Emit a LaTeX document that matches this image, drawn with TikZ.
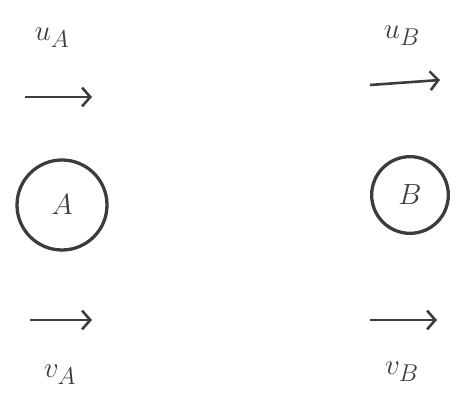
\documentclass[tikz,border=0pt]{standalone}
\usepackage{amsmath}
\usepackage{xcolor}
\usepackage{tikz}
\usetikzlibrary{arrows.meta}
\definecolor{pencil}{RGB}{60,60,60}

\begin{document}
\begin{tikzpicture}[x=0.03cm,y=-0.03cm,every node/.style={text=pencil},
    vel/.style={line width=2.2pt,pencil,-{Straight Barb[length=7pt,width=16pt,line width=2.2pt]}}]
    \useasboundingbox (0,0) rectangle (459,399);

    % Draw the two balls
    \node[draw=pencil,line width=2.8pt,circle,minimum size=2.7cm,font=\Huge] (A) at (62,205) {$A$};
    \node[draw=pencil,line width=2.8pt,circle,minimum size=2.3cm,font=\Huge] (B) at (410,195) {$B$};

    % Velocities before
    \node[font=\Huge] (uA) at (52,38) {$u_A$};
    \node[font=\Huge] (uB) at (402,36) {$u_B$};
    \coordinate (uAs) at (25,97);
    \coordinate (uAe) at (92,97);
    \coordinate (uBs) at (370,85);
    \coordinate (uBe) at (440,80);
    \draw[vel] (uAs) -- (uAe);
    \draw[vel] (uBs) -- (uBe);

    % Velocities after
    \coordinate (vAs) at (30,320);
    \coordinate (vAe) at (92,320);
    \coordinate (vBs) at (370,320);
    \coordinate (vBe) at (437,320);
    \draw[vel] (vAs) -- (vAe);
    \draw[vel] (vBs) -- (vBe);
    \node[font=\Huge] (vA) at (60,375) {$v_A$};
    \node[font=\Huge] (vB) at (402,372) {$v_B$};
\end{tikzpicture}
\end{document}
